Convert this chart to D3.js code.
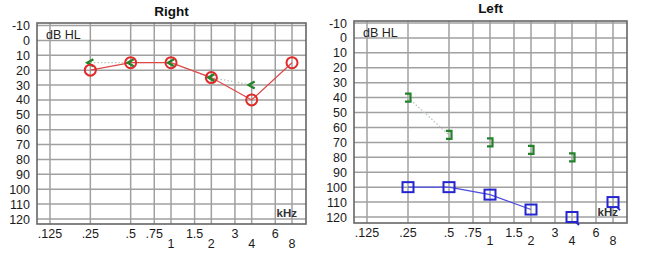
<!DOCTYPE html>
<html>
<head>
<meta charset="utf-8">
<script src="https://cdn.jsdelivr.net/npm/d3@7"></script>
<style>
  body { margin: 0; background: #fff; }
  svg { display: block; font-family: "Liberation Sans", Arial, sans-serif; }
</style>
</head>
<body>
<svg id="chart" width="669" height="253"></svg>
<script>
// frequency axis (kHz)
var freqTicks = [0.125, 0.25, 0.5, 0.75, 1, 1.5, 2, 3, 4, 6, 8];
var freqLabels = ['.125', '.25', '.5', '.75', '1', '1.5', '2', '3', '4', '6', '8'];
var freqLow = ['1', '2', '4', '8'];   // labels printed on the second row
// hearing level axis (dB HL)
var dbTicks = [-10, 0, 10, 20, 30, 40, 50, 60, 70, 80, 90, 100, 110, 120];

// right ear
var rightAirFreq = [0.25, 0.5, 1, 2, 4, 8];
var rightAir = [20, 15, 15, 25, 40, 15];
var rightBoneFreq = [0.25, 0.5, 1, 2, 4];
var rightBone = [15, 15, 15, 25, 30];

// left ear
var leftAirFreq = [0.25, 0.5, 1, 2, 4, 8];
var leftAir = [100, 100, 105, 115, 120, 110];
var leftAirNoResp = [false, false, false, false, true, true];
var leftBoneFreq = [0.25, 0.5, 1, 2, 4];
var leftBone = [40, 65, 70, 75, 80];

var svg = d3.select('#chart');

var drawFrame = function(p) {
	var g = svg.append('g');
	var x = d3.scaleLog().domain([0.125, 8]).range([p.x0, p.x1]);
	var y = d3.scaleLinear().domain([-10, 120]).range([p.y0, p.y1]);

	/*
	grid
	*/
	g.selectAll('.hg').data(dbTicks).enter().append('line')
	.attr('x1', p.left).attr('x2', p.right)
	.attr('y1', function(d) { return y(d); })
	.attr('y2', function(d) { return y(d); })
	.style('stroke', '#a0a0a0').style('stroke-width', 1.5);

	g.selectAll('.vg').data(freqTicks).enter().append('line')
	.attr('x1', function(d) { return x(d); })
	.attr('x2', function(d) { return x(d); })
	.attr('y1', p.top).attr('y2', p.bottom)
	.style('stroke', '#a0a0a0').style('stroke-width', 1.5);

	g.append('rect')
	.attr('x', p.left).attr('y', p.top)
	.attr('width', p.right - p.left).attr('height', p.bottom - p.top)
	.style('fill', 'none').style('stroke', '#666').style('stroke-width', 1.6);

	/*
	axis labels
	*/
	g.selectAll('.yl').data(dbTicks).enter().append('text')
	.attr('x', p.left - 7)
	.attr('y', function(d) { return y(d); })
	.attr('dy', '0.36em')
	.attr('text-anchor', 'end')
	.style('font-size', '12.5px').style('fill', '#1a1a1a')
	.text(function(d) { return d; });

	g.selectAll('.xl').data(freqTicks).enter().append('text')
	.attr('x', function(d) { return x(d); })
	.attr('y', function(d, i) { return freqLow.indexOf(freqLabels[i]) >= 0 ? p.lowY : p.highY; })
	.attr('text-anchor', 'middle')
	.style('font-size', '12.5px').style('fill', '#1a1a1a')
	.text(function(d, i) { return freqLabels[i]; });

	g.append('text')
	.attr('x', (p.left + p.right) / 2).attr('y', p.titleY)
	.attr('text-anchor', 'middle')
	.style('font-size', '13.5px').style('font-weight', 'bold').style('fill', '#111')
	.text(p.title);

	g.append('text')
	.attr('x', p.left + 9).attr('y', p.top + 16)
	.style('font-size', '12.5px').style('fill', '#222')
	.text('dB HL');

	g.append('text')
	.attr('x', p.right - 9).attr('y', p.bottom - 7)
	.attr('text-anchor', 'end')
	.style('font-size', '11.5px').style('font-weight', 'bold').style('fill', '#333')
	.text('kHz');

	return { g: g, x: x, y: y };
};

var pts = function(fs, vs) {
	return fs.map(function(f, i) { return [f, vs[i]]; });
};

/*
Right ear
*/
var R = drawFrame({ left: 37, right: 306, top: 23, bottom: 224, x0: 50, x1: 292, y0: 25.5, y1: 219,
	highY: 238, lowY: 248, titleY: 16, title: 'Right' });

var rLine = d3.line().x(function(d) { return R.x(d[0]); }).y(function(d) { return R.y(d[1]); });

R.g.append('path')
.datum(pts(rightBoneFreq, rightBone))
.attr('d', rLine)
.style('fill', 'none').style('stroke', '#b8c8b8').style('stroke-width', 1.3)
.style('stroke-dasharray', '1.5,2');

R.g.append('path')
.datum(pts(rightAirFreq, rightAir))
.attr('d', rLine)
.style('fill', 'none').style('stroke', '#e04848').style('stroke-width', 1.2);

R.g.selectAll('.bone').data(pts(rightBoneFreq, rightBone)).enter().append('path')
.attr('d', function(d) {
	var cx = R.x(d[0]), cy = R.y(d[1]);
	return 'M' + (cx + 3) + ',' + (cy - 3.5) + 'L' + (cx - 3) + ',' + cy + 'L' + (cx + 3) + ',' + (cy + 3.5);
})
.style('fill', 'none').style('stroke', '#23822a').style('stroke-width', 2.4);

R.g.selectAll('.air').data(pts(rightAirFreq, rightAir)).enter().append('circle')
.attr('cx', function(d) { return R.x(d[0]); })
.attr('cy', function(d) { return R.y(d[1]); })
.attr('r', 5.5)
.style('fill', 'none').style('stroke', '#e02a2a').style('stroke-width', 2);

/*
Left ear
*/
var L = drawFrame({ left: 354, right: 627, top: 21, bottom: 223, x0: 367, x1: 613, y0: 23, y1: 217,
	highY: 237, lowY: 245, titleY: 13, title: 'Left' });

var lLine = d3.line().x(function(d) { return L.x(d[0]); }).y(function(d) { return L.y(d[1]); });

L.g.append('path')
.datum(pts(leftBoneFreq, leftBone).slice(0, 2))
.attr('d', lLine)
.style('fill', 'none').style('stroke', '#b8c8b8').style('stroke-width', 1.3)
.style('stroke-dasharray', '1.5,2');

L.g.append('path')
.datum(pts(leftAirFreq, leftAir).filter(function(d, i) { return !leftAirNoResp[i]; }))
.attr('d', lLine)
.style('fill', 'none').style('stroke', '#4a4ae0').style('stroke-width', 1.2);

L.g.selectAll('.bone').data(pts(leftBoneFreq, leftBone)).enter().append('path')
.attr('d', function(d) {
	var cx = L.x(d[0]), cy = L.y(d[1]);
	return 'M' + (cx - 3) + ',' + (cy - 4) + 'L' + (cx + 2.5) + ',' + (cy - 4) + 'L' + (cx + 2.5) + ',' + (cy + 4) + 'L' + (cx - 3) + ',' + (cy + 4);
})
.style('fill', 'none').style('stroke', '#23822a').style('stroke-width', 2.2);

L.g.selectAll('.air').data(pts(leftAirFreq, leftAir)).enter().append('rect')
.attr('x', function(d) { return L.x(d[0]) - 5.5; })
.attr('y', function(d) { return L.y(d[1]) - 5; })
.attr('width', 11).attr('height', 10)
.style('fill', 'none').style('stroke', '#2525d0').style('stroke-width', 2);

// no-response tails
L.g.selectAll('.nr').data(pts(leftAirFreq, leftAir).filter(function(d, i) { return leftAirNoResp[i]; })).enter().append('path')
.attr('d', function(d) {
	var cx = L.x(d[0]), cy = L.y(d[1]);
	return 'M' + (cx + 4) + ',' + (cy + 5) + 'L' + (cx + 7) + ',' + (cy + 8);
})
.style('fill', 'none').style('stroke', '#2525d0').style('stroke-width', 1.8);
</script>
</body>
</html>
